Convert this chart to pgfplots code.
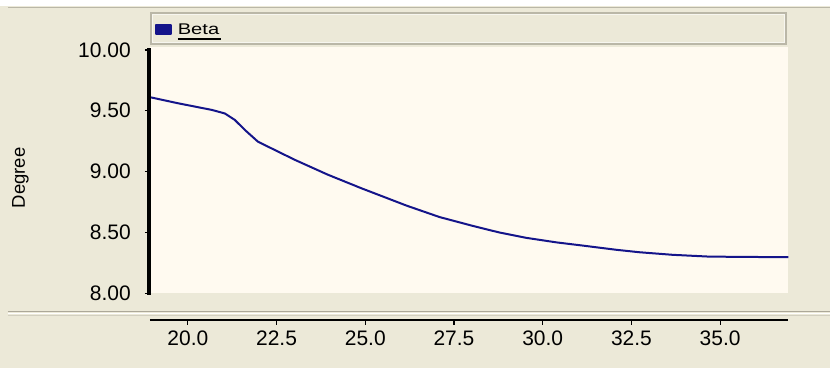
\documentclass[border=0pt]{standalone}
\usepackage{fontspec}
\setmainfont{Liberation Sans}
\usepackage{graphicx}
\usepackage{pgfplots}
\pgfplotsset{compat=1.18}
\definecolor{winbg}{HTML}{ECE9D8}
\definecolor{plotbg}{HTML}{FFFAF0}
\definecolor{navyline}{HTML}{14148A}
\definecolor{frameg}{HTML}{BAB7A7}
\definecolor{sepdark}{HTML}{ACA899}
\definecolor{seplight}{HTML}{D2CFC0}
\newcommand{\betalabel}{\leavevmode\hspace{4bp}\rlap{\rule[-6bp]{43bp}{1.6bp}}\scalebox{1.3}[1]{Beta}}
\begin{document}
\begin{tikzpicture}
\fill[winbg] (0bp,0bp) rectangle (831bp,-368bp);
\fill[white] (0bp,0bp) rectangle (831bp,-6.5bp);
\draw[frameg, line width=1.5bp] (8bp,-7.5bp) -- (831bp,-7.5bp);
\draw[sepdark, line width=1.2bp] (8bp,-311.5bp) -- (831bp,-311.5bp);
\draw[white, line width=1.2bp] (8bp,-313.5bp) -- (831bp,-313.5bp);
\draw[seplight, line width=1.2bp] (8bp,-315.5bp) -- (831bp,-315.5bp);
\draw[frameg, line width=2bp, fill=winbg] (151bp,-13bp) rectangle (787bp,-44.5bp);
\draw[white!60!winbg, line width=0.8bp] (152.6bp,-14.6bp) rectangle (785.4bp,-42.9bp);
\node[rotate=90, anchor=base, font=\fontsize{18.5bp}{22bp}\selectfont] at (25bp,-178bp) {Degree};

\begin{axis}[at={(150bp,-293.5bp)}, anchor=south west, scale only axis,
  width=639bp, height=246.8bp,
  xmin=18.93, xmax=36.92, ymin=8, ymax=10.027,
  axis background/.style={fill=plotbg},
  axis line style={draw=none},
  xtick=\empty,
  ytick={8,8.5,9,9.5,10}, ytick pos=left,
  tick align=outside, major tick length=5bp,
  tick style={black, line width=1.3bp},
  yticklabel style={font=\fontsize{21bp}{24bp}\selectfont, inner sep=0pt, xshift=-14bp,
    /pgf/number format/.cd, fixed, fixed zerofill, precision=2, assume math mode=true, /tikz/.cd},
  legend style={at={(axis description cs:0.0078,1.0697)}, anchor=west, draw=none, fill=none,
    inner sep=0pt, outer sep=0pt, font=\fontsize{15.5bp}{18bp}\selectfont},
  legend cell align=left,
  legend image code/.code={\fill[navyline] (0bp,-4.5bp) rectangle (15bp,4.5bp);},
  clip=false]
\addplot[navyline, line width=2bp, line join=round] table {
x y
18.958 9.610
19.718 9.562
20.676 9.507
21.042 9.478
21.323 9.425
21.605 9.343
21.971 9.247
22.252 9.206
23.012 9.097
23.941 8.975
24.899 8.862
26.166 8.720
27.095 8.626
28.024 8.554
28.784 8.499
29.544 8.455
30.389 8.418
31.121 8.392
32.078 8.357
32.725 8.337
33.654 8.316
34.696 8.301
36.920 8.296
};
\addlegendentry{\betalabel}
\draw[black, line width=4bp, line cap=rect] ([xshift=-1bp]axis cs:18.93,8) -- ([xshift=-1bp]axis cs:18.93,10);
\end{axis}

\begin{axis}[at={(150bp,-320bp)}, anchor=south west, scale only axis,
  width=639bp, height=20bp,
  xmin=18.93, xmax=36.92, ymin=0, ymax=1,
  axis x line=bottom, hide y axis,
  axis line style={-, line width=1.6bp, black},
  xtick={20,22.5,25,27.5,30,32.5,35},
  tick align=outside, major tick length=5bp,
  tick style={black, line width=1.3bp},
  xticklabel style={font=\fontsize{21bp}{24bp}\selectfont, inner sep=0pt, yshift=-6bp,
    /pgf/number format/.cd, fixed, fixed zerofill, precision=1, assume math mode=true, /tikz/.cd}]
\end{axis}
\end{tikzpicture}
\end{document}
